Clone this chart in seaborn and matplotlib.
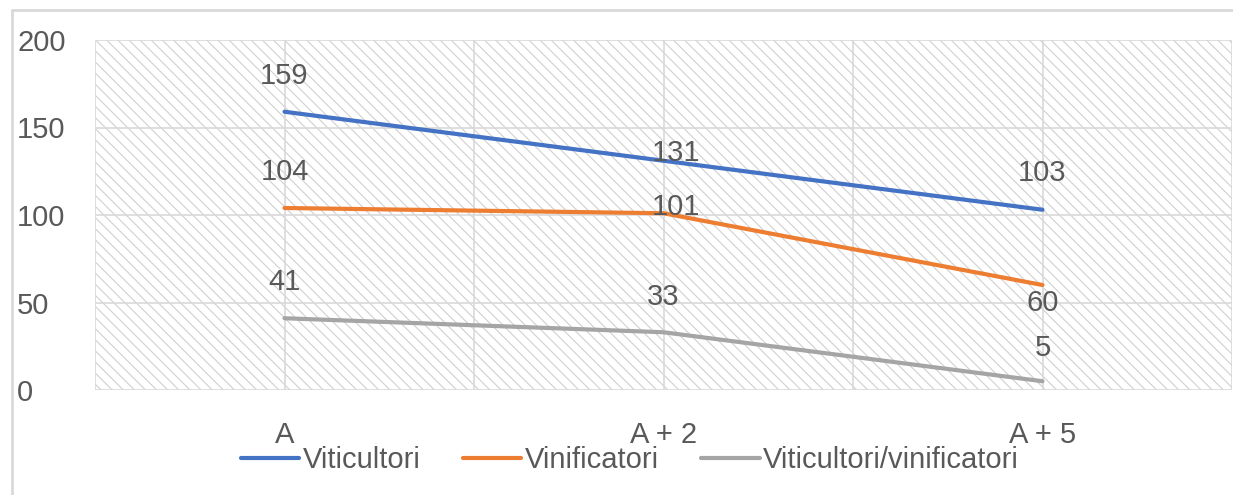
import matplotlib.pyplot as plt
from matplotlib.patches import Rectangle
from matplotlib.lines import Line2D
import pandas as pd
import seaborn as sns

# data
periods = ['A', 'A + 2', 'A + 5']
series_names = ['Viticultori', 'Vinificatori', 'Viticultori/vinificatori']
viticultori = [159, 131, 103]
vinificatori = [104, 101, 60]
misti = [41, 33, 5]
y_ticks = [0, 50, 100, 150, 200]

colors = ['#4472C4', '#ED7D31', '#A5A5A5']
# label offsets in pixels (dx, dy) for each series / point
label_offsets = [
    [(0, 36), (12, 8), (0, 37)],
    [(0, 36), (12, 6), (0, -18)],
    [(0, 36), (0, 35), (0, 33)],
]

sns.set_style("white")
plt.rcParams['font.family'] = ['Liberation Sans', 'DejaVu Sans']
plt.rcParams['hatch.linewidth'] = 0.8
text_color = '#595959'
grid_color = '#D9D9D9'

values = [viticultori, vinificatori, misti]
rows = []
for name, vals in zip(series_names, values):
    for p, v in zip(periods, vals):
        rows.append({'period': p, 'value': v, 'series': name})
df = pd.DataFrame(rows)

fig = plt.figure(figsize=(12.33, 4.95), dpi=100)
ax = fig.add_axes([95 / 1233, 105 / 495, 1137 / 1233, 350 / 495])

# hatched plot background
bg = Rectangle((0, 0), 1, 1, transform=ax.transAxes, facecolor='white',
               edgecolor='#D0D0D0', hatch='\\\\\\', lw=0, zorder=0)
ax.add_patch(bg)

sns.lineplot(data=df, x='period', y='value', hue='series', hue_order=series_names,
             palette=colors, linewidth=3, ax=ax, legend=False, sort=False, zorder=3)

ax.set_xlim(-0.5, 2.5)
ax.set_ylim(0, 200)
ax.set_yticks(y_ticks)
ax.set_xticks(range(len(periods)))
ax.set_xticklabels(periods)
ax.set_xticks([-0.5, 0.5, 1.5, 2.5], minor=True)
ax.set_xlabel('')
ax.set_ylabel('')

ax.grid(axis='y', which='major', color=grid_color, lw=1.2, zorder=1)
ax.grid(axis='x', which='minor', color=grid_color, lw=1.2, zorder=1)
ax.grid(axis='x', which='major', color=grid_color, lw=1.2, zorder=1)
ax.set_axisbelow(True)
for s in ax.spines.values():
    s.set_visible(False)

ax.tick_params(axis='both', which='both', length=0, labelsize=21, labelcolor=text_color)
ax.tick_params(axis='x', pad=22)
for lab in ax.get_yticklabels():
    lab.set_horizontalalignment('left')
ax.yaxis.set_tick_params(pad=56)

# data labels
for vals, offs in zip(values, label_offsets):
    for i, (v, (dx, dy)) in enumerate(zip(vals, offs)):
        ax.annotate(str(v), (i, v), xytext=(dx, dy), textcoords='offset pixels',
                    ha='center', va='center', fontsize=21, color=text_color, zorder=5)

handles = [Line2D([], [], color=c, lw=3) for c in colors]
fig.legend(handles, series_names, loc='center', bbox_to_anchor=(630 / 1233, 1 - 460 / 495),
           ncol=3, frameon=False, fontsize=21, labelcolor=text_color,
           handlelength=2.0, handletextpad=0.12, columnspacing=1.45, borderpad=0)

# outer chart border (left and top edges)
fig.add_artist(Line2D([12 / 1233, 12 / 1233], [0, 1 - 10 / 495], color=grid_color, lw=2))
fig.add_artist(Line2D([12 / 1233, 1], [1 - 10 / 495, 1 - 10 / 495], color=grid_color, lw=2))

fig.savefig('out.png', dpi=100)
